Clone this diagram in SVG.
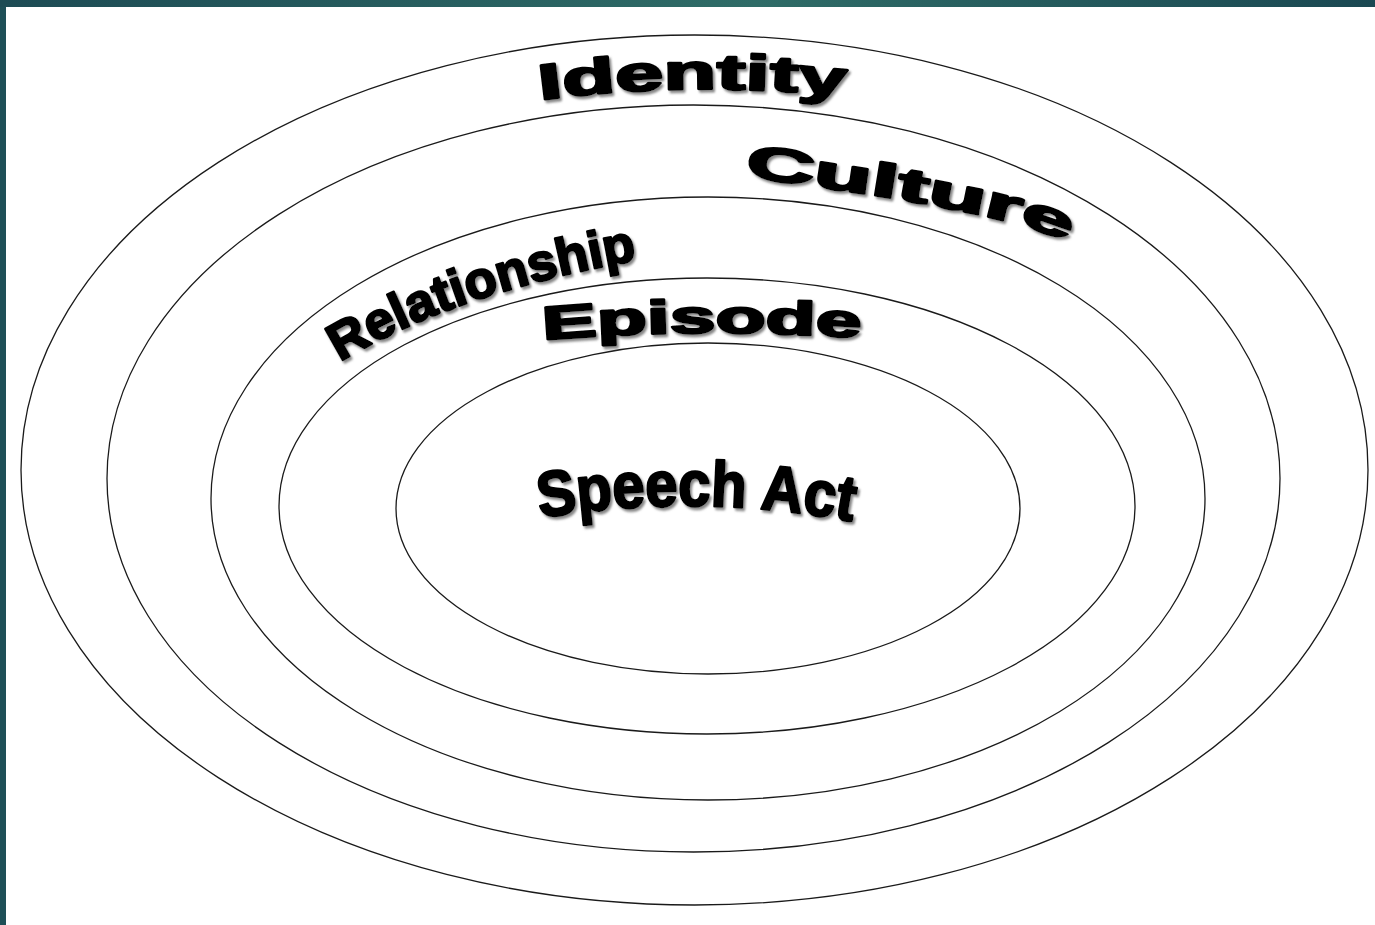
<svg xmlns="http://www.w3.org/2000/svg" width="1375" height="925" viewBox="0 0 1375 925">
  <defs>
    <linearGradient id="bar" x1="0" y1="0" x2="1" y2="0">
      <stop offset="0" stop-color="#1d4b54"/>
      <stop offset="0.55" stop-color="#2f6c67"/>
      <stop offset="1" stop-color="#1a4852"/>
    </linearGradient>
    <filter id="shadow" x="-10%" y="-30%" width="120%" height="160%">
      <feDropShadow dx="2" dy="2.5" stdDeviation="0.8" flood-color="#7a7a7a" flood-opacity="0.9"/>
    </filter>
    <path id="pIdentity" d="M 540,100 Q 693,80 850,97"/>
    <path id="pCulture" d="M 745,177 Q 1020,212 1074,246"/>
    <path id="pRelationship" d="M 340,362 Q 455,292 638,260"/>
    <path id="pEpisode" d="M 543,340 Q 700,327 862,338"/>
    <path id="pSpeech" d="M 540,518 Q 697,492 856,522"/>
    <style>
      .ring { fill: none; stroke: #1a1a1a; stroke-width: 1.3; }
      .wa { font-family: "Liberation Sans", Arial, sans-serif; font-weight: bold; fill: #000; stroke: #000; stroke-width: 2.4; stroke-linejoin: round; filter: url(#shadow); }
    </style>
  </defs>

  <rect x="0" y="0" width="1375" height="925" fill="#1e4f57"/>
  <rect x="0" y="0" width="1375" height="7" fill="url(#bar)"/>
  <rect x="6" y="7" width="1369" height="918" fill="#ffffff"/>

  <g id="ring-identity"><ellipse class="ring" cx="694.5" cy="470" rx="673.5" ry="435"/></g>
  <g id="ring-culture"><ellipse class="ring" cx="693.5" cy="478.5" rx="586.5" ry="373.5"/></g>
  <g id="ring-relationship"><ellipse class="ring" cx="708" cy="498.5" rx="497" ry="301.5"/></g>
  <g id="ring-episode"><ellipse class="ring" cx="707" cy="506" rx="428" ry="228"/></g>
  <g id="ring-speech"><ellipse class="ring" cx="708" cy="508.5" rx="312" ry="165.5"/></g>

  <g id="label-identity">
    <text class="wa" font-size="50"><textPath href="#pIdentity" textLength="306" lengthAdjust="spacingAndGlyphs">Identity</textPath></text>
  </g>
  <g id="label-culture">
    <text class="wa" font-size="47"><textPath href="#pCulture" textLength="330" lengthAdjust="spacingAndGlyphs">Culture</textPath></text>
  </g>
  <g id="label-relationship">
    <text class="wa" font-size="52"><textPath href="#pRelationship" textLength="316" lengthAdjust="spacingAndGlyphs">Relationship</textPath></text>
  </g>
  <g id="label-episode">
    <text class="wa" font-size="47"><textPath href="#pEpisode" textLength="318" lengthAdjust="spacingAndGlyphs">Episode</textPath></text>
  </g>
  <g id="label-speech">
    <text class="wa" font-size="64"><textPath href="#pSpeech" textLength="314" lengthAdjust="spacingAndGlyphs">Speech Act</textPath></text>
  </g>
</svg>
